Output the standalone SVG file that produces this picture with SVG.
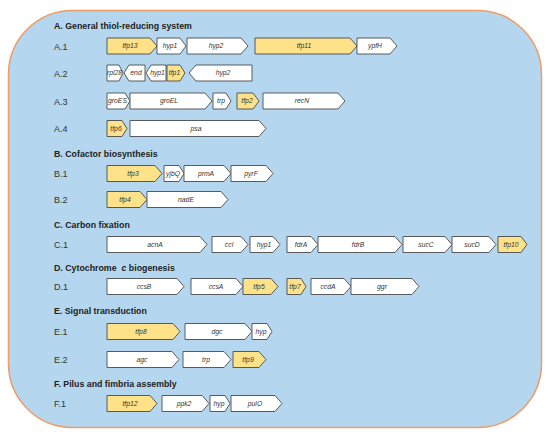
<svg xmlns="http://www.w3.org/2000/svg" width="550" height="436" viewBox="0 0 550 436">
<style>
.bg{fill:#b4d7ef;stroke:#f09a68;stroke-width:1.5}
.t{font-family:"Liberation Sans",Arial,sans-serif;font-weight:bold;font-size:8.8px;fill:#222}
.r{font-family:"Liberation Sans",Arial,sans-serif;font-size:9px;fill:#333}
.g{stroke:#4a4a4a;stroke-width:0.9}
.w{fill:#ffffff}
.y{fill:#fde28a}
.l{font-family:"Liberation Sans",Arial,sans-serif;font-style:italic;font-size:6.8px;fill:#333;text-anchor:middle}
</style>
<rect class="bg" x="8.5" y="10.5" width="533" height="417" rx="64" ry="64"/>

<g id="titles">
<text class="t" x="54" y="28.5">A. General thiol-reducing system</text>
<text class="t" x="54" y="156.5">B. Cofactor biosynthesis</text>
<text class="t" x="54" y="227.5">C. Carbon fixation</text>
<text class="t" x="54" y="270.5" xml:space="preserve">D. Cytochrome  <tspan font-style="italic">c</tspan> biogenesis</text>
<text class="t" x="54" y="313.5">E. Signal transduction</text>
<text class="t" x="54" y="386.5">F. Pilus and fimbria assembly</text>
</g>
<g id="rowlabels">
<text class="r" x="54" y="49.5">A.1</text>
<text class="r" x="54" y="76.5">A.2</text>
<text class="r" x="54" y="104.5">A.3</text>
<text class="r" x="54" y="132">A.4</text>
<text class="r" x="54" y="177">B.1</text>
<text class="r" x="54" y="203">B.2</text>
<text class="r" x="54" y="248">C.1</text>
<text class="r" x="54" y="290">D.1</text>
<text class="r" x="54" y="335">E.1</text>
<text class="r" x="54" y="363">E.2</text>
<text class="r" x="54" y="407">F.1</text>
</g>

<!-- A.1 c=46 -->
<g id="A1_tfp13"><polygon class="g y" points="107,38 150,38 157,46 150,54 107,54"/><text class="l" x="130" y="48.3">tfp13</text></g>
<g id="A1_hyp1"><polygon class="g w" points="157,38 180,38 186,46 180,54 157,54"/><text class="l" x="170" y="48.3">hyp1</text></g>
<g id="A1_hyp2"><polygon class="g w" points="187,38 241,38 248,46 241,54 187,54"/><text class="l" x="216" y="48.3">hyp2</text></g>
<g id="A1_tfp11"><polygon class="g y" points="255,38 350,38 357,46 350,54 255,54"/><text class="l" x="304" y="48.3">tfp11</text></g>
<g id="A1_ypfH"><polygon class="g w" points="357,38 390,38 397,46 390,54 357,54"/><text class="l" x="375" y="48.3">ypfH</text></g>

<!-- A.2 c=73 -->
<g id="A2_rpl28"><polygon class="g w" points="107,65 119,65 123,73 119,81 107,81"/><text class="l" x="114.5" y="75.3">rpl28</text></g>
<g id="A2_end"><polygon class="g w" points="145,65 129,65 124,73 129,81 145,81"/><text class="l" x="136" y="75.3">end</text></g>
<g id="A2_hyp1"><polygon class="g w" points="166,65 151,65 146,73 151,81 166,81"/><text class="l" x="157.5" y="75.3">hyp1</text></g>
<g id="A2_tfp1"><polygon class="g y" points="167,65 180,65 185,73 180,81 167,81"/><text class="l" x="174.5" y="75.3">tfp1</text></g>
<g id="A2_hyp2"><polygon class="g w" points="252,65 196,65 189,73 196,81 252,81"/><text class="l" x="223" y="75.3">hyp2</text></g>

<!-- A.3 c=101 -->
<g id="A3_groES"><polygon class="g w" points="107,93 125,93 130,101 125,109 107,109"/><text class="l" x="117.5" y="103.3">groES</text></g>
<g id="A3_groEL"><polygon class="g w" points="130,93 205,93 212,101 205,109 130,109"/><text class="l" x="169" y="103.3">groEL</text></g>
<g id="A3_trp"><polygon class="g w" points="213,93 226,93 231,101 226,109 213,109"/><text class="l" x="221" y="103.3">trp</text></g>
<g id="A3_tfp2"><polygon class="g y" points="237,93 253,93 259,101 253,109 237,109"/><text class="l" x="247" y="103.3">tfp2</text></g>
<g id="A3_recN"><polygon class="g w" points="263,93 338,93 345,101 338,109 263,109"/><text class="l" x="302" y="103.3">recN</text></g>

<!-- A.4 c=128.5 -->
<g id="A4_tfp6"><polygon class="g y" points="107,120.5 122,120.5 127,128.5 122,136.5 107,136.5"/><text class="l" x="116" y="130.8">tfp6</text></g>
<g id="A4_psa"><polygon class="g w" points="130,120.5 259,120.5 266,128.5 259,136.5 130,136.5"/><text class="l" x="196" y="130.8">psa</text></g>

<!-- B.1 c=173.5 -->
<g id="B1_tfp3"><polygon class="g y" points="107,165.5 155,165.5 162,173.5 155,181.5 107,181.5"/><text class="l" x="133" y="175.8">tfp3</text></g>
<g id="B1_yjbQ"><polygon class="g w" points="164,165.5 179,165.5 184,173.5 179,181.5 164,181.5"/><text class="l" x="173" y="175.8">yjbQ</text></g>
<g id="B1_prmA"><polygon class="g w" points="184,165.5 224,165.5 231,173.5 224,181.5 184,181.5"/><text class="l" x="206" y="175.8">prmA</text></g>
<g id="B1_pyrF"><polygon class="g w" points="231,165.5 266,165.5 273,173.5 266,181.5 231,181.5"/><text class="l" x="251" y="175.8">pyrF</text></g>

<!-- B.2 c=199.5 -->
<g id="B2_tfp4"><polygon class="g y" points="107,191.5 140,191.5 147,199.5 140,207.5 107,207.5"/><text class="l" x="125" y="201.8">tfp4</text></g>
<g id="B2_nadE"><polygon class="g w" points="147,191.5 221,191.5 228,199.5 221,207.5 147,207.5"/><text class="l" x="186" y="201.8">nadE</text></g>

<!-- C.1 c=244.5 -->
<g id="C1_acnA"><polygon class="g w" points="107,236.5 200,236.5 207,244.5 200,252.5 107,252.5"/><text class="l" x="155" y="246.8">acnA</text></g>
<g id="C1_ccl"><polygon class="g w" points="212,236.5 241,236.5 248,244.5 241,252.5 212,252.5"/><text class="l" x="229" y="246.8">ccl</text></g>
<g id="C1_hyp1"><polygon class="g w" points="250,236.5 273,236.5 280,244.5 273,252.5 250,252.5"/><text class="l" x="264" y="246.8">hyp1</text></g>
<g id="C1_fdrA"><polygon class="g w" points="287,236.5 311,236.5 318,244.5 311,252.5 287,252.5"/><text class="l" x="301" y="246.8">fdrA</text></g>
<g id="C1_fdrB"><polygon class="g w" points="318,236.5 395,236.5 402,244.5 395,252.5 318,252.5"/><text class="l" x="358" y="246.8">fdrB</text></g>
<g id="C1_sucC"><polygon class="g w" points="403,236.5 445,236.5 452,244.5 445,252.5 403,252.5"/><text class="l" x="426" y="246.8">sucC</text></g>
<g id="C1_sucD"><polygon class="g w" points="452,236.5 489,236.5 496,244.5 489,252.5 452,252.5"/><text class="l" x="472" y="246.8">sucD</text></g>
<g id="C1_tfp10"><polygon class="g y" points="498,236.5 521,236.5 527,244.5 521,252.5 498,252.5"/><text class="l" x="511" y="246.8">tfp10</text></g>

<!-- D.1 c=286.5 -->
<g id="D1_ccsB"><polygon class="g w" points="107,278.5 177,278.5 184,286.5 177,294.5 107,294.5"/><text class="l" x="144" y="288.8">ccsB</text></g>
<g id="D1_ccsA"><polygon class="g w" points="191,278.5 236,278.5 243,286.5 236,294.5 191,294.5"/><text class="l" x="216" y="288.8">ccsA</text></g>
<g id="D1_tfp5"><polygon class="g y" points="243,278.5 271,278.5 278,286.5 271,294.5 243,294.5"/><text class="l" x="259" y="288.8">tfp5</text></g>
<g id="D1_tfp7"><polygon class="g y" points="287,278.5 301,278.5 306,286.5 301,294.5 287,294.5"/><text class="l" x="295" y="288.8">tfp7</text></g>
<g id="D1_ccdA"><polygon class="g w" points="311,278.5 344,278.5 351,286.5 344,294.5 311,294.5"/><text class="l" x="328" y="288.8">ccdA</text></g>
<g id="D1_ggr"><polygon class="g w" points="351,278.5 412,278.5 419,286.5 412,294.5 351,294.5"/><text class="l" x="382" y="288.8">ggr</text></g>

<!-- E.1 c=331.5 -->
<g id="E1_tfp8"><polygon class="g y" points="107,323.5 173,323.5 180,331.5 173,339.5 107,339.5"/><text class="l" x="141" y="333.8">tfp8</text></g>
<g id="E1_dgc"><polygon class="g w" points="185,323.5 245,323.5 252,331.5 245,339.5 185,339.5"/><text class="l" x="217" y="333.8">dgc</text></g>
<g id="E1_hyp"><polygon class="g w" points="252,323.5 267,323.5 272,331.5 267,339.5 252,339.5"/><text class="l" x="261" y="333.8">hyp</text></g>

<!-- E.2 c=359.5 -->
<g id="E2_agc"><polygon class="g w" points="107,351.5 172,351.5 179,359.5 172,367.5 107,367.5"/><text class="l" x="142" y="361.8">agc</text></g>
<g id="E2_trp"><polygon class="g w" points="183,351.5 224,351.5 231,359.5 224,367.5 183,367.5"/><text class="l" x="206" y="361.8">trp</text></g>
<g id="E2_tfp9"><polygon class="g y" points="233,351.5 259,351.5 266,359.5 259,367.5 233,367.5"/><text class="l" x="248" y="361.8">tfp9</text></g>

<!-- F.1 c=403.5 -->
<g id="F1_tfp12"><polygon class="g y" points="107,395.5 150,395.5 157,403.5 150,411.5 107,411.5"/><text class="l" x="130" y="405.8">tfp12</text></g>
<g id="F1_ppk2"><polygon class="g w" points="162,395.5 202,395.5 209,403.5 202,411.5 162,411.5"/><text class="l" x="184" y="405.8">ppk2</text></g>
<g id="F1_hyp"><polygon class="g w" points="210,395.5 225,395.5 230,403.5 225,411.5 210,411.5"/><text class="l" x="219" y="405.8">hyp</text></g>
<g id="F1_pulO"><polygon class="g w" points="231,395.5 275,395.5 282,403.5 275,411.5 231,411.5"/><text class="l" x="255" y="405.8">pulO</text></g>
</svg>
